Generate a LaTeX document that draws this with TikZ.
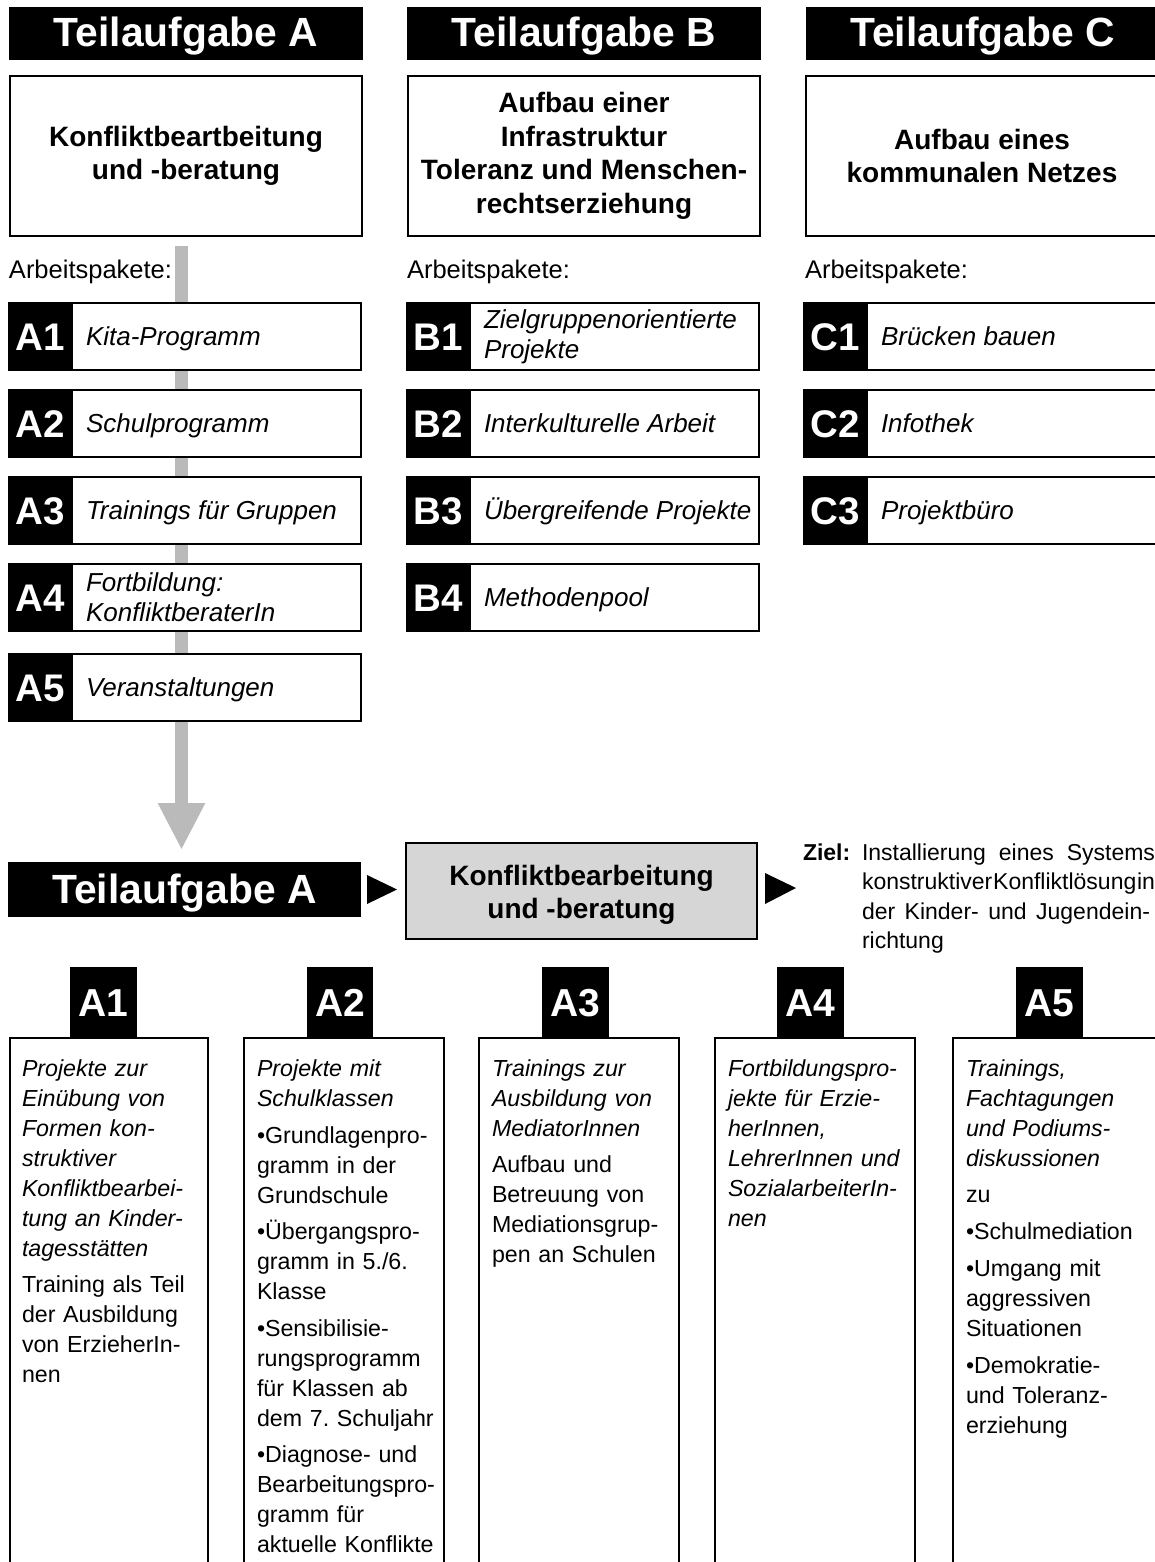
\documentclass[tikz,border=0pt]{standalone}
\usepackage{fontspec}
\setmainfont{Liberation Sans}
\usetikzlibrary{arrows.meta,calc}
\definecolor{arrowgray}{RGB}{186,186,186}
\definecolor{boxgray}{RGB}{214,214,214}
\frenchspacing
\newcommand\pkgrow[7]{%
  \node[pkgbox, minimum width=#4] (#1) at (#2,#3) {};
  \node[pkglab, anchor=west] (#1l) at ([xshift=-1]#1.west) {#5};
  \node[#7, anchor=west] (#1t) at ([xshift=13]#1l.east) {#6};
}
\begin{document}
\begin{tikzpicture}[x=1pt,y=-1pt,
  every node/.style={inner sep=0pt, outer sep=0pt},
  hdr/.style={fill=black, text=white, minimum width=354, minimum height=53,
    font=\fontsize{40.8}{44}\selectfont\bfseries, text height=29, text depth=2},
  titlebox/.style={draw=black, line width=2pt, fill=white, minimum width=352,
    minimum height=160, align=center, font=\fontsize{28}{33.5}\selectfont\bfseries},
  apk/.style={font=\fontsize{25.5}{30}\selectfont, anchor=base west},
  pkgbox/.style={draw=black, line width=2pt, fill=white, minimum height=67},
  pkglab/.style={fill=black, text=white, minimum width=65, minimum height=69,
    font=\fontsize{38.5}{40}\selectfont\bfseries, text height=27.5, text depth=0},
  pkgtxt/.style={font=\fontsize{26}{30}\selectfont\itshape, text height=18.7, text depth=0},
  pkgtxtii/.style={font=\fontsize{26}{30}\selectfont\itshape, align=left},
  sublab/.style={fill=black, text=white, minimum width=67, minimum height=70,
    font=\fontsize{39}{40}\selectfont\bfseries, text height=28, text depth=0},
  subbox/.style={draw=black, line width=2pt, fill=white, minimum height=532, minimum width=200},
  subtxt/.style={anchor=base west, text width=215, align=left,
    font=\fontsize{23.2}{30}\selectfont},
  bigarrow/.style={draw=arrowgray, line width=13pt, -{Triangle[width=44pt,length=47pt]}},
  headtri/.style={fill=black}
]
\useasboundingbox (0,0) rectangle (1155,1562);
\clip (0,0) rectangle (1155,1562);

% headers
\node[hdr] (hA) at (186,33.5) {Teilaufgabe A};
\node[hdr] (hB) at (584,33.5) {Teilaufgabe B};
\node[hdr] (hC) at (982.5,33.5) {Teilaufgabe C};

% title boxes
\node[titlebox] (tA) at (186,156) {Konfliktbeartbeitung\\und -beratung};
\node[titlebox] (tB) at (584,156) {Aufbau einer\\Infrastruktur\\Toleranz und Menschen-\\rechtserziehung};
\node[titlebox] (tC) at (982,156) {Aufbau eines\\kommunalen Netzes};

% bottom bar (needed for arrow)
\node[hdr, minimum width=353, minimum height=55] (bA) at (184.5,889.5) {Teilaufgabe A};

% big gray arrow behind the work packages
\draw[bigarrow, shorten <=10pt, shorten >=12pt] ([xshift=-4.5]tA.south) -- ([xshift=-4.5]tA.south |- bA.north);

% Arbeitspakete
\node[apk] (apA) at (9,278) {Arbeitspakete:};
\node[apk] (apB) at (407,278) {Arbeitspakete:};
\node[apk] (apC) at (805,278) {Arbeitspakete:};

% rows A
\pkgrow{A1}{185}{336.5}{352}{A1}{Kita-Programm}{pkgtxt}
\pkgrow{A2}{185}{423.5}{352}{A2}{Schulprogramm}{pkgtxt}
\pkgrow{A3}{185}{510.5}{352}{A3}{Trainings für Gruppen}{pkgtxt}
\pkgrow{A4}{185}{597.5}{352}{A4}{Fortbildung:\\KonfliktberaterIn}{pkgtxtii}
\pkgrow{A5}{185}{687.5}{352}{A5}{Veranstaltungen}{pkgtxt}
% rows B
\pkgrow{B1}{583}{336.5}{352}{B1}{Zielgruppenorientierte\\Projekte}{pkgtxtii}
\pkgrow{B2}{583}{423.5}{352}{B2}{Interkulturelle Arbeit}{pkgtxt}
\pkgrow{B3}{583}{510.5}{352}{B3}{Übergreifende Projekte}{pkgtxt}
\pkgrow{B4}{583}{597.5}{352}{B4}{Methodenpool}{pkgtxt}
% rows C
\pkgrow{C1}{984}{336.5}{360}{C1}{Brücken bauen}{pkgtxt}
\pkgrow{C2}{984}{423.5}{360}{C2}{Infothek}{pkgtxt}
\pkgrow{C3}{984}{510.5}{360}{C3}{Projektbüro}{pkgtxt}

% lower section
\node[draw=black, line width=2pt, fill=boxgray, minimum width=351, minimum height=96] (gb) at (581.5,891) {};
\node[align=center, font=\fontsize{28}{33.5}\selectfont\bfseries] (gbt) at ([yshift=-4]gb.center)
  {Konfliktbearbeitung\\und -beratung};
\fill[headtri] ($(bA.east)+(6,-14.5)$) -- ($(bA.east)+(36,0)$) -- ($(bA.east)+(6,14.5)$) -- cycle;
\fill[headtri] ($(gb.east)+(8,-18)$) -- ($(gb.east)+(39,-3)$) -- ($(gb.east)+(8,13)$) -- cycle;

\node[anchor=base west, font=\fontsize{23}{29.5}\selectfont\bfseries] (zl) at (803,860) {Ziel:};
\node[anchor=base west, text width=293, align=left, font=\fontsize{23}{29.5}\selectfont] (zt) at (862,860)
  {\makebox[293pt][s]{Installierung\hfill eines\hfill Systems}\\
   \makebox[292pt][s]{konstruktiver\hspace{0.8pt plus 1fill}Konfliktlösung\hspace{0.8pt plus 1fill}in}\\
   \makebox[288pt][s]{der\hfill Kinder-\hfill und\hfill Jugendein-}\\
   richtung};

% sub boxes
\node[subbox, minimum width=198] (s1) at (109,1304) {};
\node[subbox] (s2) at (344,1304) {};
\node[subbox] (s3) at (579,1304) {};
\node[subbox] (s4) at (815,1304) {};
\node[subbox, minimum width=216] (s5) at (1061,1304) {};

\node[sublab] (l1) at (103.5,1002) {A1};
\node[sublab, minimum width=66] (l2) at (340,1002) {A2};
\node[sublab] (l3) at (575.5,1002) {A3};
\node[sublab] (l4) at (810.5,1002) {A4};
\node[sublab] (l5) at (1049.5,1002) {A5};

\node[subtxt] (x1) at (22,1076) {\itshape Projekte zur\\ Einübung von\\ Formen kon-\\ struktiver\\ Konfliktbearbei-\\ tung an Kinder-\\ tagesstätten\\[6pt]
  \upshape Training als Teil\\ der Ausbildung\\ von ErzieherIn-\\ nen};
\node[subtxt] (x2) at (257,1076) {\itshape Projekte mit\\ Schulklassen\\[7pt]
  \upshape •Grundlagenpro-\\ gramm in der\\ Grundschule\\[6pt]
  •Übergangspro-\\ gramm in 5./6.\\ Klasse\\[7pt]
  •Sensibilisie-\\ rungsprogramm\\ für Klassen ab\\ dem 7. Schuljahr\\[6pt]
  •Diagnose- und\\ Bearbeitungspro-\\ gramm für\\ aktuelle Konflikte};
\node[subtxt] (x3) at (492,1076) {\itshape Trainings zur\\ Ausbildung von\\ MediatorInnen\\[6pt]
  \upshape Aufbau und\\ Betreuung von\\ Mediationsgrup-\\ pen an Schulen};
\node[subtxt] (x4) at (728,1076) {\itshape Fortbildungspro-\\ jekte für Erzie-\\ herInnen,\\ LehrerInnen und\\ SozialarbeiterIn-\\ nen};
\node[subtxt] (x5) at (966,1076) {\itshape Trainings,\\ Fachtagungen\\ und Podiums-\\ diskussionen\\[6pt]
  \upshape zu\\[7pt] •Schulmediation\\[7pt] •Umgang mit\\ aggressiven\\ Situationen\\[7pt]
  •Demokratie-\\ und Toleranz-\\ erziehung};
\end{tikzpicture}
\end{document}
